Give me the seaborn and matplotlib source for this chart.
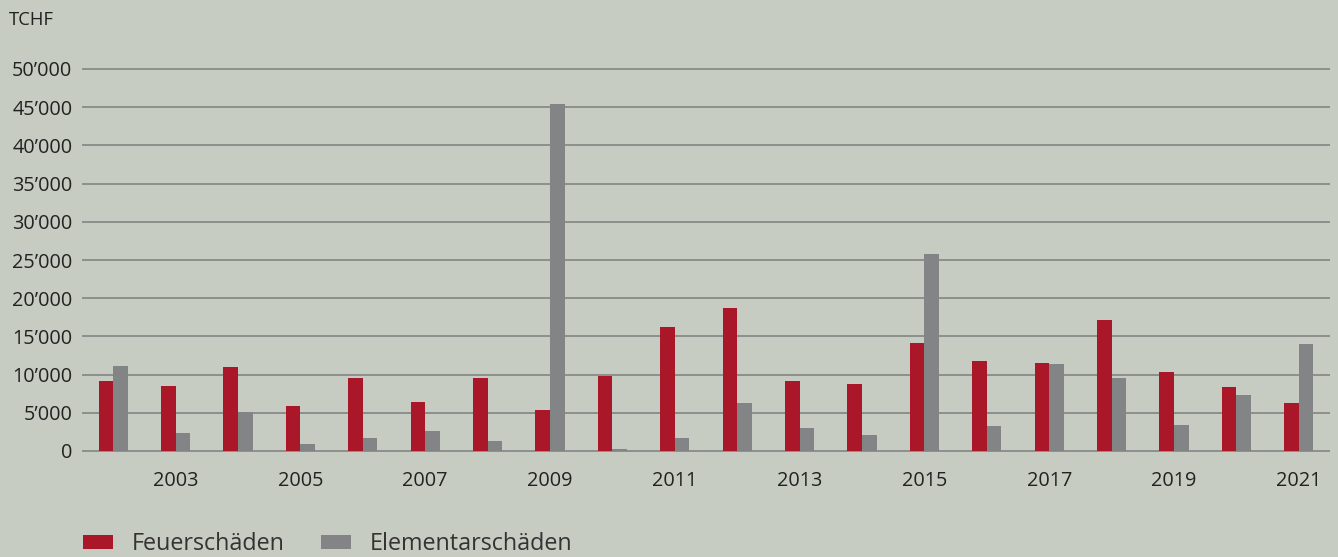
import matplotlib
matplotlib.use("Agg")
import matplotlib.pyplot as plt
import seaborn as sns
import pandas as pd
from matplotlib.patches import Patch

years = [2002, 2003, 2004, 2005, 2006, 2007, 2008, 2009, 2010, 2011,
         2012, 2013, 2014, 2015, 2016, 2017, 2018, 2019, 2020, 2021]
feuer = [9200, 8500, 11000, 5900, 9500, 6400, 9550, 5400, 9800, 16200,
         18700, 9200, 8800, 14100, 11800, 11500, 17100, 10300, 8400, 6300]
element = [11100, 2400, 5100, 900, 1700, 2600, 1300, 45400, 300, 1700,
           6300, 3000, 2100, 25800, 3300, 11400, 9500, 3400, 7300, 14000]
series_names = ["Feuerschäden", "Elementarschäden"]
ytick_values = [0, 5000, 10000, 15000, 20000, 25000, 30000, 35000, 40000, 45000, 50000]
unit_label = "TCHF"

BG = "#C7CCC2"
RED = "#A91729"
GRAY = "#828485"
GRID = "#878A87"
TXT = "#222222"

sns.set_theme(style="white")
plt.rcParams["font.family"] = ["Open Sans", "DejaVu Sans"]

df = pd.DataFrame({
    "Jahr": [str(y) for y in years] * 2,
    "Wert": feuer + element,
    "Serie": [series_names[0]] * len(years) + [series_names[1]] * len(years),
})

W, H = 1338, 557
fig = plt.figure(figsize=(W / 100, H / 100), dpi=100, facecolor=BG)

ylo, yhi = -500, 51000
ppu = 382 / 50000
bottom_px = 451 + (0 - ylo) * ppu
top_px = 69 - (yhi - 50000) * ppu
left_px, right_px = 82, 1330
ax = fig.add_axes([left_px / W, (H - bottom_px) / H,
                   (right_px - left_px) / W, (bottom_px - top_px) / H])
ax.set_facecolor(BG)

sns.barplot(data=df, x="Jahr", y="Wert", hue="Serie", ax=ax,
            palette=[RED, GRAY], width=0.47, saturation=1,
            legend=False, errorbar=None, zorder=3, linewidth=0)

ax.set_xlim(-0.5, len(years) - 0.5)
ax.set_ylim(ylo, yhi)
for v in ytick_values:
    ax.axhline(v, color=GRID, lw=1.3, zorder=1)

ax.set_yticks(ytick_values)
ax.set_yticklabels([f"{v:,}".replace(",", "’") for v in ytick_values])
xt = list(range(1, len(years), 2))
ax.set_xticks(xt)
ax.set_xticklabels([str(years[i]) for i in xt])
ax.tick_params(axis="both", length=0, labelsize=14.3, colors=TXT)
ax.tick_params(axis="y", pad=7)
ax.tick_params(axis="x", pad=12)
ax.set_xlabel("")
ax.set_ylabel("")
for s in ax.spines.values():
    s.set_visible(False)
ax.grid(False)

fig.text(9 / W, 1 - 20 / H, unit_label, fontsize=13.3, color=TXT, va="center", ha="left")

handles = [Patch(facecolor=RED, edgecolor="none"), Patch(facecolor=GRAY, edgecolor="none")]
fig.legend(handles, series_names, loc="center left",
           bbox_to_anchor=(62 / W, 1 - 544 / H), ncol=2, frameon=False,
           fontsize=16.8, handlelength=1.3, handleheight=0.55,
           handletextpad=0.8, columnspacing=1.55, labelcolor="#333333")

fig.savefig("out.png", dpi=100, facecolor=BG)
